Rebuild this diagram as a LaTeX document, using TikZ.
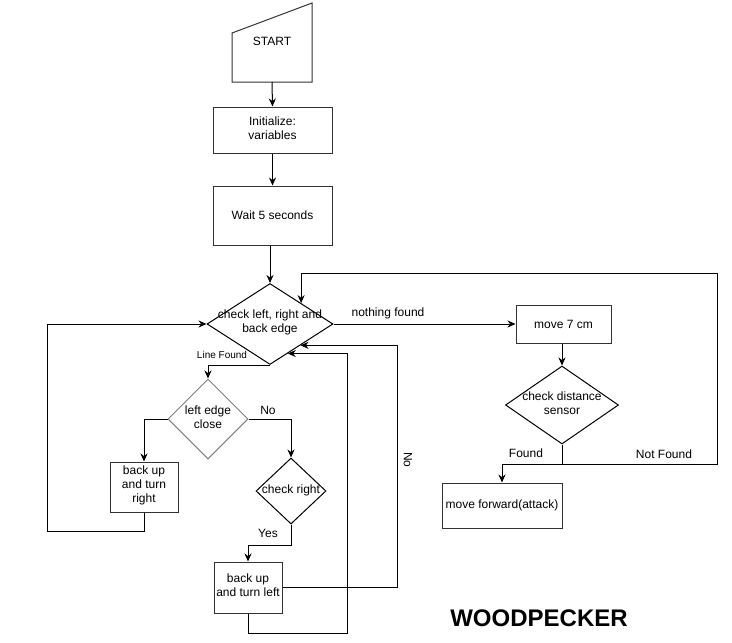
\documentclass[tikz,border=0pt]{standalone}
\usepackage{fontspec}
\setmainfont{Liberation Sans}
\usetikzlibrary{arrows.meta,shapes.geometric,calc}
\definecolor{edge}{HTML}{333333}
\definecolor{greyedge}{HTML}{808080}
\tikzset{
  stdfont/.style={font=\fontsize{12}{14}\selectfont},
  procbox/.style={draw=edge, line width=1pt, align=center, inner sep=0pt, stdfont},
  decision/.style={draw=black, line width=1pt, diamond, inner sep=0pt, aspect=1},
  dtext/.style={align=center, stdfont, inner sep=0pt},
  flow/.style={draw=black, line width=1pt, -{Stealth[length=8pt,width=7pt]}},
  plain/.style={draw=black, line width=1pt},
  lbl/.style={stdfont, inner sep=0pt},
}
\begin{document}
\begin{tikzpicture}[x=1pt,y=-1pt]
\useasboundingbox (0,0) rectangle (732,643);
\fill[white] (0,0) rectangle (732,643);

% START (manual input)
\draw[draw=edge, line width=1pt] (232,33) -- (312,3) -- (312,82) -- (232,82) -- cycle;
\node[lbl] (start) at (272,41) {START};
\coordinate (startb) at (272,82);

\node[procbox, minimum width=119pt, minimum height=46pt] (init) at (272.5,130) {};
\node[dtext] (initt) at (272.5,128) {Initialize:\\variables};
\node[procbox, minimum width=119pt, minimum height=59pt] (wait) at (272.5,215.5) {Wait 5 seconds};

\node[decision, minimum width=126pt, minimum height=81pt] (d1) at (270,324) {};
\node[dtext] (d1t) at (270,322) {check left, right and\\back edge};

\node[procbox, minimum width=95pt, minimum height=38pt] (move7) at (563.5,324) {move 7 cm};

\node[decision, minimum width=113pt, minimum height=78pt] (d2) at (562,405) {};
\node[dtext] (d2t) at (562,403) {check distance\\sensor};

\node[procbox, minimum width=120pt, minimum height=45pt] (fwd) at (502,505.5) {move forward(attack)};

\node[decision, draw=greyedge, minimum width=80pt, minimum height=80pt] (d3) at (208,419) {};
\node[dtext] (d3t) at (208,417) {left edge\\close};

\node[procbox, minimum width=68pt, minimum height=50pt] (br) at (144,487) {};
\node[dtext] (brt) at (144,485) {back up\\and turn\\right};

\node[decision, minimum width=70pt, minimum height=66pt] (d4) at (291,491) {};
\node[dtext] (d4t) at (291,490) {check right};

\node[procbox, minimum width=68pt, minimum height=51pt] (bl) at (248,587.5) {};
\node[dtext] (blt) at (248,585.5) {back up\\and turn left};

% edge points on d1
\coordinate (p1) at ($(d1.north)!0.49!(d1.east)$);
\coordinate (p2) at ($(d1.east)!0.52!(d1.south)$);
\coordinate (p3) at ($(d1.east)!0.72!(d1.south)$);
\coordinate (j1) at (562,464);

% connectors
\draw[flow] (startb) -- (init.north);
\draw[flow] (init.south) -- (wait.north);
\draw[flow] (wait.south -| d1.north) -- (d1.north);
\draw[flow] (d1.east) -- (move7.west);
\draw[flow] (move7.south -| d2.north) -- (d2.north);
\draw[plain] (d2.south) -- (j1);
\draw[flow] (j1) -| (fwd.north);
\draw[flow] (j1) -| (717,273) -| (p1);
\draw[flow] (d1.south) -| (d3.north);
\draw[flow] (d3.west) -| (br.north);
\draw[flow] (d3.east) -| (d4.north);
\draw[flow] (br.south) |- (47,531) |- (d1.west);
\draw[flow] (d4.south) -- ++(0,21) -| (bl.north);
\draw[flow] (bl.east) -| ([xshift=97pt]p2) -- (p2);
\draw[flow] (bl.south) |- (347,633) |- (p3);

% labels
\node[lbl] (l1) at (388,313) {nothing found};
\node[lbl, font=\fontsize{10}{12}\selectfont] (l2) at (222,355) {Line Found};
\node[lbl] (l3) at (268,410) {No};
\node[lbl] (l4) at (268,533) {Yes};
\node[lbl, rotate=-90] (l5) at (408,460) {No};
\node[lbl] (l6) at (526,453) {Found};
\node[lbl] (l7) at (664,454) {Not Found};
\node[inner sep=0pt, font=\fontsize{24}{28}\selectfont\bfseries] (title) at (539,618) {WOODPECKER};
\end{tikzpicture}
\end{document}
